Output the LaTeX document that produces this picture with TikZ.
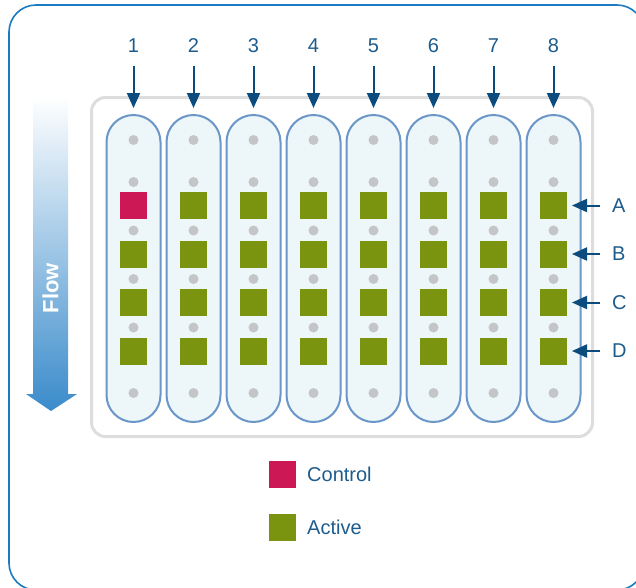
\documentclass[tikz,border=0pt]{standalone}
\usepackage{fontspec}
\setmainfont{Liberation Sans}
\usetikzlibrary{arrows.meta}

\definecolor{framecol}{HTML}{1B7BC2}
\definecolor{traycol}{HTML}{DDDDDD}
\definecolor{pillfill}{HTML}{EDF6F8}
\definecolor{pillline}{HTML}{6B96C8}
\definecolor{dotcol}{HTML}{C3C5C7}
\definecolor{activecol}{HTML}{7A9410}
\definecolor{controlcol}{HTML}{CC1955}
\definecolor{textcol}{HTML}{1D5C8C}
\definecolor{arrowcol}{HTML}{0C4B7D}
\definecolor{flowblue}{HTML}{3A8BCB}

\begin{document}
\begin{tikzpicture}[x=1pt,y=-1pt,
  frame/.style={draw=framecol, line width=1.6pt, rounded corners=27pt},
  tray/.style={draw=traycol, line width=3pt, fill=white, rounded corners=14pt},
  pill/.style={draw=pillline, fill=pillfill, line width=2pt, rounded corners=27pt,
    minimum width=54pt, minimum height=307pt, inner sep=0pt},
  dot/.style={fill=dotcol},
  sq/.style={minimum size=27pt, inner sep=0pt, outer sep=0pt},
  activesq/.style={sq, fill=activecol},
  controlsq/.style={sq, fill=controlcol},
  lbl/.style={text=textcol, inner sep=0pt, font=\fontsize{20}{24}\selectfont},
  arr/.style={draw=arrowcol, line width=2pt, -{Triangle[length=15pt,width=13pt]}},
  flowtxt/.style={text=white, inner sep=0pt, font=\fontsize{22}{26}\selectfont\bfseries}
]
\useasboundingbox (0,0) rectangle (636,587);

% outer frame, running past the page edges on the right and bottom
\begin{scope}
  \clip (0,0) rectangle (636,587);
  \draw[frame] (9,5) rectangle (644,590);
\end{scope}

% flow direction arrow
\shade[top color=white, bottom color=flowblue]
  (33,96) -- (68,96) -- (68,394) -- (77,394) -- (51,411) -- (26,394) -- (33,394) -- cycle;
\node[flowtxt, rotate=90] (flow) at (50.5,288) {Flow};

% tray holding the channels
\draw[tray] (91.5,97.5) rectangle (592.5,436.5);

% channels, spots and inlet arrows
\foreach \i in {1,...,8} {
  \pgfmathsetmacro\cx{133.5+60*(\i-1)}
  \node[pill] (p\i) at (\cx,268.5) {};
  \foreach \dy in {140,182,230.5,279,327.5,393}
    \fill[dot] (\cx,\dy) circle (5);
  \foreach \r/\ry in {B/254,C/302.5,D/351}
    \node[activesq] (s\i\r) at (\cx,\ry) {};
  \node[lbl, anchor=base] (n\i) at (\cx,52) {\i};
  \draw[arr, shorten <=14pt, shorten >=6pt] (n\i.south) -- (p\i.north);
}
\node[controlsq] (s1A) at (133.5,205.5) {};
\foreach \i in {2,...,8} {
  \pgfmathsetmacro\cx{133.5+60*(\i-1)}
  \node[activesq] (s\i A) at (\cx,205.5) {};
}

% row labels
\foreach \r/\ry in {A/205.5,B/254,C/302.5,D/351} {
  \node[lbl, anchor=west] (l\r) at (612,\ry) {\r};
  \draw[arr, shorten <=12pt, shorten >=5pt] (l\r.west) -- (s8\r.east);
}

% legend
\node[controlsq] (legc) at (282.5,474.5) {};
\node[lbl, anchor=west] (legctext) at (307,474.5) {Control};
\node[activesq] (lega) at (282.5,527.5) {};
\node[lbl, anchor=west] (legatext) at (307,527.5) {Active};
\end{tikzpicture}
\end{document}
